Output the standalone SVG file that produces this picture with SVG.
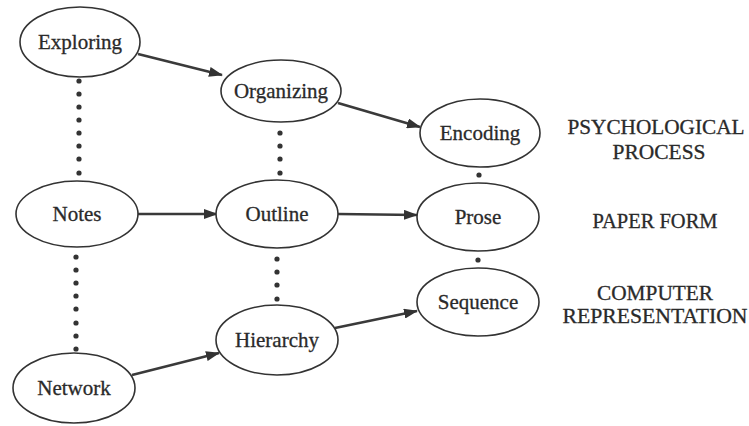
<svg xmlns="http://www.w3.org/2000/svg" width="749" height="426" viewBox="0 0 749 426">
  <defs>
    <marker id="arrow" viewBox="0 0 14 10" refX="13" refY="5" markerWidth="14" markerHeight="10" markerUnits="userSpaceOnUse" orient="auto">
      <path d="M0,0 L14,5 L0,10 Z" fill="#333"/>
    </marker>
    <style>
      .node ellipse { fill: #fff; stroke: #333; stroke-width: 1.6; }
      .node text { font-family: "Liberation Serif", "Times New Roman", serif; font-size: 21px; fill: #2a2a2a; stroke: #2a2a2a; stroke-width: 0.3; text-anchor: middle; }
      .edge { stroke: #3a3a3a; stroke-width: 2.6; fill: none; marker-end: url(#arrow); }
      .dot { fill: #333; }
      .level { font-family: "Liberation Serif", "Times New Roman", serif; font-size: 20.5px; fill: #2a2a2a; stroke: #2a2a2a; stroke-width: 0.3; text-anchor: middle; }
    </style>
  </defs>
  <rect width="749" height="426" fill="#fff"/>

  <!-- dotted vertical links between levels -->
  <g id="links">
    <g class="dot">
      <circle cx="79" cy="81" r="2.6"/><circle cx="79" cy="94" r="2.6"/><circle cx="79" cy="107" r="2.6"/><circle cx="79" cy="120" r="2.6"/>
      <circle cx="79" cy="133" r="2.6"/><circle cx="79" cy="146" r="2.6"/><circle cx="79" cy="159" r="2.6"/><circle cx="79" cy="173" r="2.6"/>

      <circle cx="76" cy="257" r="2.6"/><circle cx="76" cy="270" r="2.6"/><circle cx="76" cy="283" r="2.6"/><circle cx="76" cy="296" r="2.6"/>
      <circle cx="76" cy="309" r="2.6"/><circle cx="76" cy="323" r="2.6"/><circle cx="76" cy="336" r="2.6"/><circle cx="76" cy="349" r="2.6"/>

      <circle cx="280" cy="133" r="2.6"/><circle cx="280" cy="146" r="2.6"/><circle cx="280" cy="159" r="2.6"/><circle cx="280" cy="173" r="2.6"/>

      <circle cx="277" cy="259" r="2.6"/><circle cx="277" cy="272" r="2.6"/><circle cx="277" cy="285" r="2.6"/><circle cx="277" cy="299" r="2.6"/>

      <circle cx="479" cy="175" r="2.6"/>
      <circle cx="478" cy="260" r="2.6"/>
    </g>
  </g>

  <!-- arrows -->
  <g id="connectors">
    <line class="edge" x1="138" y1="54" x2="222" y2="75"/>
    <line class="edge" x1="338" y1="103" x2="420" y2="127"/>
    <line class="edge" x1="138" y1="214" x2="217" y2="214"/>
    <line class="edge" x1="338" y1="214" x2="417" y2="215"/>
    <line class="edge" x1="132" y1="375" x2="219" y2="353"/>
    <line class="edge" x1="335" y1="328" x2="417" y2="311"/>
  </g>

  <g id="exploring" class="node">
    <ellipse cx="80" cy="42" rx="60" ry="35"/>
    <text x="80" y="49">Exploring</text>
  </g>
  <g id="organizing" class="node">
    <ellipse cx="281" cy="91" rx="60" ry="31"/>
    <text x="281" y="98">Organizing</text>
  </g>
  <g id="encoding" class="node">
    <ellipse cx="480" cy="133" rx="60" ry="34"/>
    <text x="480" y="140">Encoding</text>
  </g>
  <g id="notes" class="node">
    <ellipse cx="77" cy="214" rx="61" ry="33"/>
    <text x="77" y="221">Notes</text>
  </g>
  <g id="outline" class="node">
    <ellipse cx="277" cy="214" rx="61" ry="34"/>
    <text x="277" y="221">Outline</text>
  </g>
  <g id="prose" class="node">
    <ellipse cx="478" cy="217" rx="61" ry="34"/>
    <text x="478" y="224">Prose</text>
  </g>
  <g id="sequence" class="node">
    <ellipse cx="478" cy="302" rx="61" ry="34"/>
    <text x="478" y="309">Sequence</text>
  </g>
  <g id="hierarchy" class="node">
    <ellipse cx="277" cy="340" rx="61" ry="35"/>
    <text x="277" y="347">Hierarchy</text>
  </g>
  <g id="network" class="node">
    <ellipse cx="74" cy="388" rx="61" ry="35"/>
    <text x="74" y="395">Network</text>
  </g>

  <!-- level captions -->
  <g id="captions">
    <text class="level" x="656" y="134" textLength="177" lengthAdjust="spacingAndGlyphs">PSYCHOLOGICAL</text>
    <text class="level" x="659" y="159" textLength="93" lengthAdjust="spacingAndGlyphs">PROCESS</text>
    <text class="level" x="655" y="228" textLength="125" lengthAdjust="spacingAndGlyphs">PAPER FORM</text>
    <text class="level" x="655" y="300" textLength="116" lengthAdjust="spacingAndGlyphs">COMPUTER</text>
    <text class="level" x="655" y="323" textLength="185" lengthAdjust="spacingAndGlyphs">REPRESENTATION</text>
  </g>
</svg>
